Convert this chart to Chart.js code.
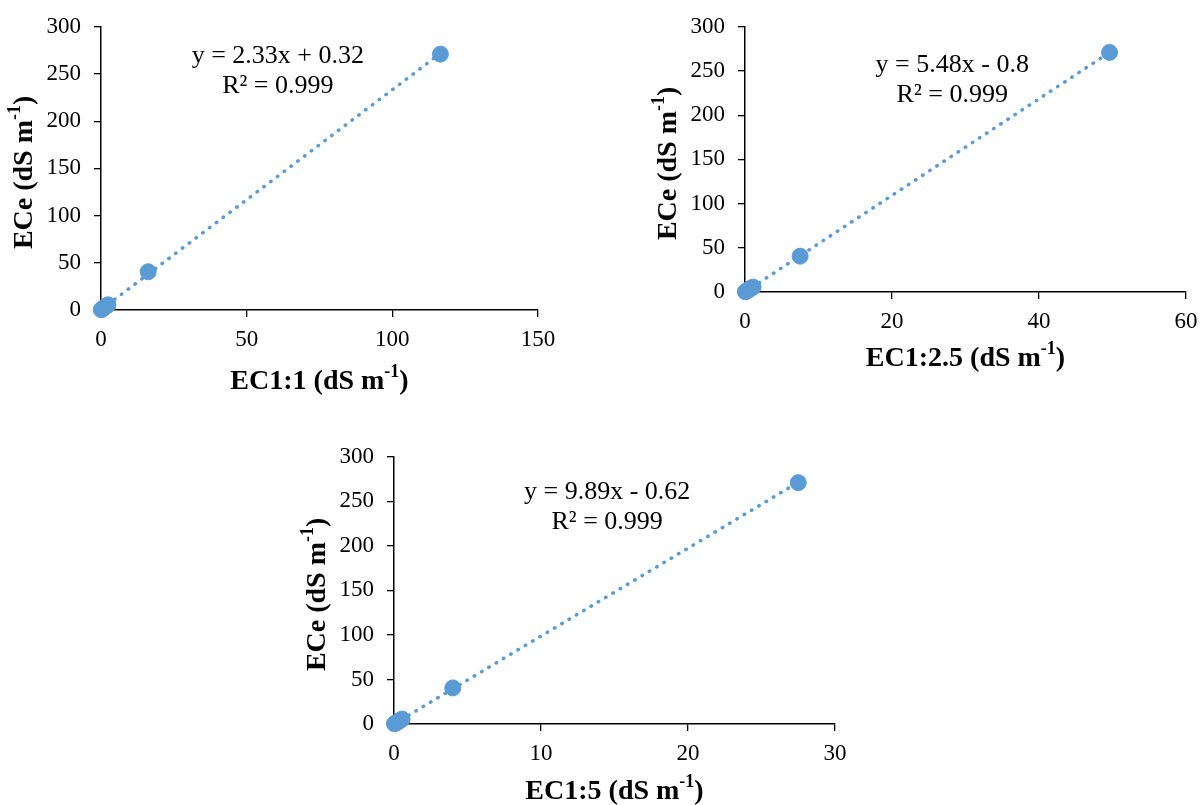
<!DOCTYPE html>
<html>
<head>
<meta charset="utf-8">
<script src="https://cdn.jsdelivr.net/npm/chart.js@4"></script>
<style>
  body { margin: 0; background: #fff; overflow: hidden; }
  .wrap { position: relative; width: 1201px; height: 805px; overflow: hidden; }
  canvas { position: absolute; }
</style>
</head>
<body>
<div class="wrap">
  <canvas id="c1" width="580" height="400" style="left:0px;top:0px;width:580px;height:400px"></canvas>
  <canvas id="c2" width="561" height="390" style="left:640px;top:0px;width:561px;height:390px"></canvas>
  <canvas id="c3" width="580" height="375" style="left:290px;top:430px;width:580px;height:375px"></canvas>
</div>
<script>
// ECe values shared by the three panels
const ece = [0.3, 1.2, 2.0, 3.0, 4.2, 5.5, 40.5, 271];
const ec11 = [0.1, 0.5, 0.9, 1.3, 1.8, 2.4, 16.2, 116.5];
const ec125 = [0.05, 0.2, 0.4, 0.6, 0.8, 1.1, 7.5, 49.6];
const ec15 = [0.03, 0.12, 0.22, 0.32, 0.42, 0.55, 4.0, 27.5];

// trend line ends (linear fit)
const trend11X = [0, 116.5], trend11Y = [0.3, 271.8];
const trend125X = [0, 49.6], trend125Y = [0, 271];
const trend15X = [0, 27.5], trend15Y = [0, 271.4];

const eq11 = ['y = 2.33x + 0.32', 'R² = 0.999'];
const eq125 = ['y = 5.48x - 0.8', 'R² = 0.999'];
const eq15 = ['y = 9.89x - 0.62', 'R² = 0.999'];

const yTicksMax = 300;
const blue = '#5B9BD5';
const serif = '"Liberation Serif", "Times New Roman", serif';

function drawSup(ctx, parts, x, y, size) {
    const big = 'bold ' + size + 'px ' + serif;
    const small = 'bold ' + Math.round(size * 0.65) + 'px ' + serif;
    ctx.font = big;
    const w1 = ctx.measureText(parts[0]).width;
    const w3 = ctx.measureText(parts[2]).width;
    ctx.font = small;
    const w2 = ctx.measureText(parts[1]).width;
    let x0 = x - (w1 + w2 + w3) / 2;
    ctx.textAlign = 'left';
    ctx.textBaseline = 'middle';
    ctx.font = big;
    ctx.fillText(parts[0], x0, y);
    ctx.font = small;
    ctx.fillText(parts[1], x0 + w1, y - size * 0.33);
    ctx.font = big;
    ctx.fillText(parts[2], x0 + w1 + w2, y);
}

const annot = {
    id: 'annot',
    afterDraw(chart, args, o) {
        const { ctx, chartArea: a, scales } = chart;
        ctx.save();
        ctx.fillStyle = '#000';
        drawSup(ctx, o.xTitle, (a.left + a.right) / 2, a.bottom + o.xTitleGap, 28);
        ctx.save();
        ctx.translate(a.left - o.yTitleGap, (a.top + a.bottom) / 2 + 4);
        ctx.rotate(-Math.PI / 2);
        drawSup(ctx, ['ECe (dS m', '-1', ')'], 0, 0, 28);
        ctx.restore();
        ctx.font = '26px ' + serif;
        ctx.textAlign = 'center';
        ctx.textBaseline = 'middle';
        const ex = scales.x.getPixelForValue(o.eqAt[0]);
        const ey = scales.y.getPixelForValue(o.eqAt[1]);
        ctx.fillText(o.eq[0], ex, ey);
        ctx.fillText(o.eq[1], ex, ey + 30);
        ctx.restore();
    }
};

function makeChart(id, xs, tx, ty, xMax, xStep, yAxisW, xAxisH, padTop, padRight, eq, eqAt, xTitle, xTitleGap) {
    const ctx = document.getElementById(id).getContext('2d');
    return new Chart(ctx, {
        type: 'scatter',
        data: {
            datasets: [
                {
                    label: 'points',
                    data: xs.map((x, i) => ({ x: x, y: ece[i] })),
                    backgroundColor: blue,
                    borderColor: blue,
                    pointRadius: 8,
                    pointHoverRadius: 8,
                    clip: false,
                    order: 0,
                },
                {
                    label: 'trend',
                    type: 'line',
                    data: tx.map((x, i) => ({ x: x, y: ty[i] })),
                    borderColor: blue,
                    borderWidth: 3.5,
                    borderDash: [0.5, 8],
                    borderCapStyle: 'round',
                    pointRadius: 0,
                    fill: false,
                    order: 1,
                },
            ],
        },
        options: {
            responsive: false,
            animation: false,
            layout: { padding: { top: padTop, right: padRight, left: 0, bottom: 0 } },
            plugins: {
                legend: { display: false },
                tooltip: { enabled: false },
                annot: { eq: eq, eqAt: eqAt, xTitle: xTitle, xTitleGap: xTitleGap, yTitleGap: 76 },
            },
            scales: {
                x: {
                    type: 'linear',
                    min: 0,
                    max: xMax,
                    afterFit: (s) => { s.height = xAxisH; s.paddingRight = 0; },
                    ticks: { stepSize: xStep, color: '#000', font: { family: serif, size: 23 }, padding: 9 },
                    grid: { drawOnChartArea: false, drawTicks: true, tickLength: 7, color: '#000', lineWidth: 1.3 },
                    border: { display: true, color: '#000', width: 1.5 },
                },
                y: {
                    type: 'linear',
                    min: 0,
                    max: yTicksMax,
                    afterFit: (s) => { s.width = yAxisW; },
                    ticks: { stepSize: 50, color: '#000', font: { family: serif, size: 23 }, padding: 13 },
                    grid: { drawOnChartArea: false, drawTicks: true, tickLength: 7, color: '#000', lineWidth: 1.3 },
                    border: { display: true, color: '#000', width: 1.5 },
                },
            },
        },
        plugins: [annot],
    });
}

makeChart('c1', ec11, trend11X, trend11Y, 150, 50, 101, 90, 22, 42, eq11, [60.7, 269], ['EC1:1 (dS m', '-1', ')'], 72);
makeChart('c2', ec125, trend125X, trend125Y, 60, 20, 105, 98, 22, 15, eq125, [28.2, 256.5], ['EC1:2.5 (dS m', '-1', ')'], 67);
makeChart('c3', ec15, trend15X, trend15Y, 30, 10, 104, 81, 25, 35, eq15, [14.5, 259.8], ['EC1:5 (dS m', '-1', ')'], 68);
</script>
</body>
</html>
